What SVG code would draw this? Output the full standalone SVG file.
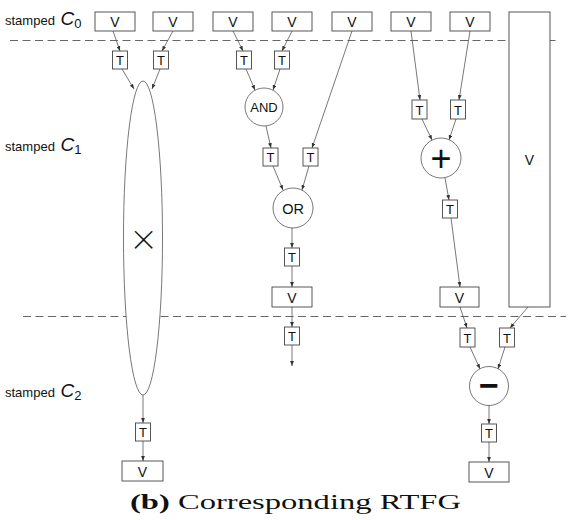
<svg xmlns="http://www.w3.org/2000/svg" width="575" height="520" viewBox="0 0 575 520">
<defs>
<marker id="ah" viewBox="0 0 8 6" refX="8" refY="3" markerWidth="5" markerHeight="4" orient="auto" markerUnits="userSpaceOnUse">
<path d="M0,0 L8,3 L0,6 z" fill="#333"/>
</marker>
<style>
.box{fill:#fff;stroke:#444;stroke-width:0.9}
.circ{fill:#fff;stroke:#555;stroke-width:0.8}
.lbl{font-family:"Liberation Sans",Arial,sans-serif;font-size:14px;fill:#111;text-anchor:middle;dominant-baseline:central}
.tl{font-family:"Liberation Sans",Arial,sans-serif;font-size:13px;fill:#111;text-anchor:middle;dominant-baseline:central}
.edge{stroke:#555;stroke-width:0.8;fill:none;marker-end:url(#ah)}
.dash{stroke:#666;stroke-width:1;stroke-dasharray:8,4.5}
.stamp{font-family:"Liberation Sans",Arial,sans-serif;font-size:13px;fill:#111}
.cc{font-family:"Liberation Sans",Arial,sans-serif;font-style:italic;font-size:19px;fill:#111}
.sub{font-family:"Liberation Sans",Arial,sans-serif;font-size:13px;fill:#111}
</style>
</defs>
<rect width="575" height="520" fill="#fff"/>

<g id="separators">
<line class="dash" x1="10" y1="40.5" x2="557" y2="40.5"/>
<line class="dash" x1="23" y1="316.5" x2="566" y2="316.5"/>
</g>

<g id="labels">
<text class="stamp" x="5" y="25">stamped <tspan class="cc" dx="2">C</tspan><tspan class="sub" dy="3">0</tspan></text>
<text class="stamp" x="5" y="151">stamped <tspan class="cc" dx="2">C</tspan><tspan class="sub" dy="3">1</tspan></text>
<text class="stamp" x="5" y="397">stamped <tspan class="cc" dx="2">C</tspan><tspan class="sub" dy="3">2</tspan></text>
<text x="130" y="509" font-family="Liberation Serif,'Times New Roman',serif" font-size="22" fill="#111" textLength="331" lengthAdjust="spacingAndGlyphs"><tspan font-weight="bold">(b)</tspan> Corresponding RTFG</text>
</g>

<g id="connectors">
<line class="edge" x1="113" y1="31" x2="120" y2="51"/>
<line class="edge" x1="173" y1="31" x2="162" y2="51"/>
<line class="edge" x1="233" y1="31" x2="243" y2="51"/>
<line class="edge" x1="292" y1="31" x2="282" y2="51"/>
<line class="edge" x1="352" y1="31" x2="312" y2="148"/>
<line class="edge" x1="411" y1="31" x2="420" y2="100"/>
<line class="edge" x1="470" y1="31" x2="459" y2="100"/>
<line class="edge" x1="122" y1="69" x2="134" y2="89"/>
<line class="edge" x1="160" y1="69" x2="152" y2="89"/>
<line class="edge" x1="246" y1="69" x2="255" y2="90"/>
<line class="edge" x1="280" y1="69" x2="273" y2="90"/>
<line class="edge" x1="266" y1="126" x2="271" y2="148"/>
<line class="edge" x1="273" y1="166" x2="283" y2="190"/>
<line class="edge" x1="309" y1="166" x2="302" y2="190"/>
<line class="edge" x1="292" y1="228" x2="292" y2="248"/>
<line class="edge" x1="292" y1="266" x2="292" y2="287"/>
<line class="edge" x1="292" y1="307" x2="292" y2="327"/>
<line class="edge" x1="292" y1="345" x2="292" y2="366"/>
<line class="edge" x1="422" y1="119" x2="432" y2="140"/>
<line class="edge" x1="456" y1="119" x2="449" y2="140"/>
<line class="edge" x1="445" y1="178" x2="449" y2="200"/>
<line class="edge" x1="451" y1="218" x2="460" y2="287"/>
<line class="edge" x1="460" y1="307" x2="467" y2="328"/>
<line class="edge" x1="528" y1="307" x2="510" y2="328"/>
<line class="edge" x1="470" y1="347" x2="480" y2="369"/>
<line class="edge" x1="505" y1="347" x2="498" y2="369"/>
<line class="edge" x1="489" y1="405" x2="489" y2="424"/>
<line class="edge" x1="489" y1="442" x2="489" y2="462"/>
<line class="edge" x1="143" y1="395" x2="143" y2="423"/>
<line class="edge" x1="143" y1="441" x2="143" y2="461"/>
</g>

<g id="v1"><rect class="box" x="95" y="12" width="40" height="19"/><text class="lbl" x="115" y="22">V</text></g>
<g id="v2"><rect class="box" x="153" y="12" width="40" height="19"/><text class="lbl" x="173" y="22">V</text></g>
<g id="v3"><rect class="box" x="213" y="12" width="40" height="19"/><text class="lbl" x="233" y="22">V</text></g>
<g id="v4"><rect class="box" x="272" y="12" width="40" height="19"/><text class="lbl" x="292" y="22">V</text></g>
<g id="v5"><rect class="box" x="332" y="12" width="40" height="19"/><text class="lbl" x="352" y="22">V</text></g>
<g id="v6"><rect class="box" x="391" y="12" width="40" height="19"/><text class="lbl" x="411" y="22">V</text></g>
<g id="v7"><rect class="box" x="450" y="12" width="40" height="19"/><text class="lbl" x="470" y="22">V</text></g>
<g id="vtall"><rect class="box" x="509" y="12" width="41" height="295"/><text class="lbl" x="529.5" y="160">V</text></g>

<g id="t1"><rect class="box" x="112.5" y="51" width="15" height="18"/><text class="tl" x="120" y="60.5">T</text></g>
<g id="t2"><rect class="box" x="153.5" y="51" width="15" height="18"/><text class="tl" x="161" y="60.5">T</text></g>
<g id="t3"><rect class="box" x="236.5" y="51" width="15" height="18"/><text class="tl" x="244" y="60.5">T</text></g>
<g id="t4"><rect class="box" x="274.5" y="51" width="15" height="18"/><text class="tl" x="282" y="60.5">T</text></g>

<g id="mul"><ellipse class="circ" cx="143" cy="238" rx="19.5" ry="157"/><text x="143.5" y="238" font-family="'DejaVu Sans',sans-serif" font-size="36" fill="#111" stroke="#fff" stroke-width="1.3" text-anchor="middle" dominant-baseline="central">×</text></g>

<g id="and"><circle class="circ" cx="264" cy="107" r="19"/><text class="lbl" x="264" y="107.5" style="font-size:13px">AND</text></g>
<g id="t5"><rect class="box" x="263" y="148" width="15" height="18"/><text class="tl" x="270.5" y="157.5">T</text></g>
<g id="t6"><rect class="box" x="303" y="148" width="15" height="18"/><text class="tl" x="310.5" y="157.5">T</text></g>
<g id="or"><circle class="circ" cx="293" cy="208" r="20"/><text class="lbl" x="293" y="208.5" style="font-size:14.5px">OR</text></g>
<g id="t_or"><rect class="box" x="284.5" y="248" width="15" height="18"/><text class="tl" x="292" y="257.5">T</text></g>
<g id="v_or"><rect class="box" x="272" y="287" width="40" height="20"/><text class="lbl" x="292" y="297.5">V</text></g>
<g id="t_or2"><rect class="box" x="284.5" y="327" width="15" height="18"/><text class="tl" x="292" y="336.5">T</text></g>

<g id="t7"><rect class="box" x="412" y="100" width="15" height="19"/><text class="tl" x="419.5" y="110">T</text></g>
<g id="t8"><rect class="box" x="450.5" y="100" width="15" height="19"/><text class="tl" x="458" y="110">T</text></g>
<g id="plus"><circle class="circ" cx="441" cy="158" r="20"/><text x="441" y="158" font-family="'Liberation Sans',sans-serif" font-size="36" fill="#111" text-anchor="middle" dominant-baseline="central">+</text></g>
<g id="t_plus"><rect class="box" x="442.5" y="200" width="15" height="18"/><text class="tl" x="450" y="209.5">T</text></g>
<g id="v_plus"><rect class="box" x="440" y="287" width="39" height="20"/><text class="lbl" x="459.5" y="297.5">V</text></g>

<g id="t9"><rect class="box" x="460" y="328" width="15" height="19"/><text class="tl" x="467.5" y="338">T</text></g>
<g id="t10"><rect class="box" x="499.5" y="328" width="15" height="19"/><text class="tl" x="507" y="338">T</text></g>
<g id="minus"><circle class="circ" cx="489" cy="386" r="19.5"/><text x="489" y="385" font-family="'Liberation Sans',sans-serif" font-size="34" font-weight="bold" fill="#111" text-anchor="middle" dominant-baseline="central">−</text></g>
<g id="t_minus"><rect class="box" x="481.5" y="424" width="15" height="18"/><text class="tl" x="489" y="433.5">T</text></g>
<g id="v_minus"><rect class="box" x="469" y="462" width="40" height="20"/><text class="lbl" x="489" y="472.5">V</text></g>

<g id="t_mul"><rect class="box" x="135.5" y="423" width="15" height="18"/><text class="tl" x="143" y="432.5">T</text></g>
<g id="v_mul"><rect class="box" x="122" y="461" width="41" height="20"/><text class="lbl" x="142.5" y="471.5">V</text></g>
</svg>
